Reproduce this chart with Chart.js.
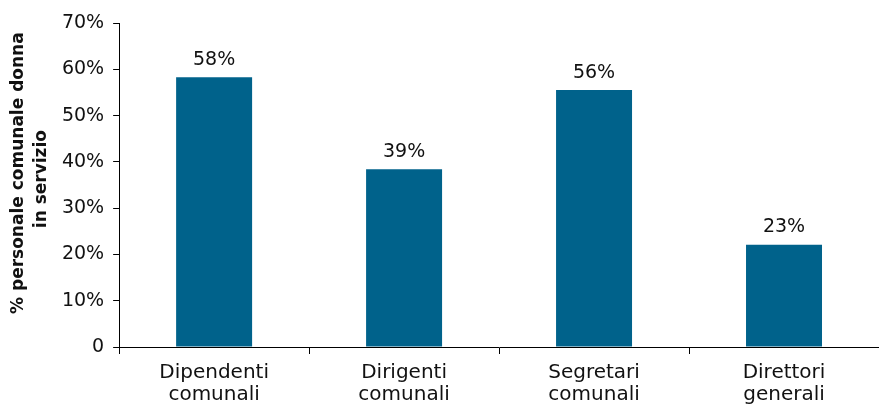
<!DOCTYPE html>
<html>
<head>
<meta charset="utf-8">
<script src="https://cdn.jsdelivr.net/npm/chart.js@4"></script>
<style>
  html, body { margin: 0; padding: 0; background: #fff; }
  #wrap { width: 879px; height: 408px; }
</style>
</head>
<body>
<div id="wrap"><canvas id="chart"></canvas></div>
<script>
// chart data
const categories = [
  ["Dipendenti", "comunali"],
  ["Dirigenti", "comunali"],
  ["Segretari", "comunali"],
  ["Direttori", "generali"]
];
const shares = [58.3, 38.4, 55.5, 22.1];
const shareLabels = ["58%", "39%", "56%", "23%"];
const yTicks = [0, 10, 20, 30, 40, 50, 60, 70];
const yTitle = ["    % personale comunale donna", "  in servizio"];

const barColor = "#00628b";
const fontFamily = "'DejaVu Sans', sans-serif";

// draw the % labels above each bar
const valueLabels = {
  id: "valueLabels",
  afterDatasetsDraw(chart) {
    const ctx = chart.ctx;
    const meta = chart.getDatasetMeta(0);
    ctx.save();
    ctx.fillStyle = "#111";
    ctx.font = "19px " + fontFamily;
    ctx.textAlign = "center";
    ctx.textBaseline = "bottom";
    meta.data.forEach((bar, i) => {
      ctx.fillText(shareLabels[i], bar.x, bar.y - 8);
    });
    ctx.restore();
  }
};

new Chart(document.getElementById("chart"), {
  type: "bar",
  data: {
    labels: categories,
    datasets: [{
      data: shares,
      backgroundColor: barColor,
      borderWidth: 0,
      categoryPercentage: 1,
      barPercentage: 0.4
    }]
  },
  options: {
    responsive: true,
    maintainAspectRatio: false,
    animation: false,
    devicePixelRatio: 1,
    layout: { padding: { top: 23, right: 0, left: 7, bottom: -6 } },
    plugins: {
      legend: { display: false },
      tooltip: { enabled: false }
    },
    scales: {
      x: {
        offset: true,
        grid: {
          offset: true,
          drawOnChartArea: false,
          drawTicks: true,
          tickLength: 7,
          color: "#000"
        },
        border: { color: "#000", width: 1 },
        ticks: {
          color: "#111",
          font: { family: fontFamily, size: 20, lineHeight: 1.1 },
          padding: 8,
          maxRotation: 0
        }
      },
      y: {
        min: 0,
        max: 70,
        afterBuildTicks(axis) {
          axis.ticks = yTicks.map(v => ({ value: v }));
        },
        grid: {
          drawOnChartArea: false,
          drawTicks: true,
          tickLength: 6,
          color: "#000"
        },
        border: { color: "#000", width: 1 },
        ticks: {
          color: "#111",
          font: { family: fontFamily, size: 19 },
          padding: 9,
          callback: v => (v === 0 ? "0" : v + "%")
        },
        title: {
          display: true,
          text: yTitle,
          color: "#111",
          font: { family: fontFamily, size: 17, weight: "bold", lineHeight: 1.35 },
          padding: { top: 0, bottom: 0 }
        }
      }
    }
  },
  plugins: [valueLabels]
});
</script>
</body>
</html>
